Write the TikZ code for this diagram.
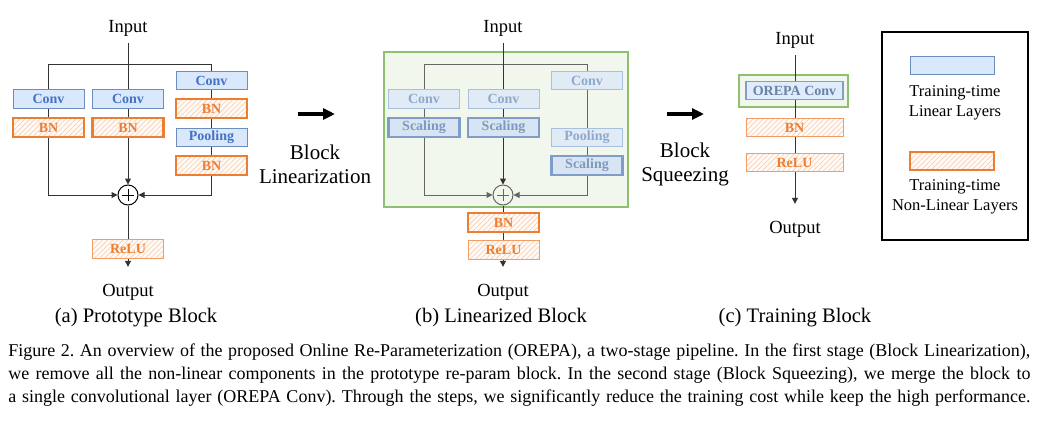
\documentclass[tikz,border=0pt]{standalone}
\usepackage{fontspec}
\setmainfont{Liberation Serif}
\usetikzlibrary{arrows.meta,patterns.meta}
\pgfdeclarelayer{back}
\pgfdeclarelayer{mid}
\pgfsetlayers{back,mid,main}
\frenchspacing
\definecolor{bfill}{HTML}{DAE8FC}
\definecolor{bdraw}{HTML}{6C8EBF}
\definecolor{btext}{HTML}{4472C4}
\definecolor{ffill}{HTML}{E1EBF5}
\definecolor{fdraw}{HTML}{A9C0DC}
\definecolor{ftext}{HTML}{8EA9CC}
\definecolor{sfill}{HTML}{D8E4F1}
\definecolor{sdraw}{HTML}{7E9DC9}
\definecolor{stext}{HTML}{7D9AC2}
\definecolor{odraw}{HTML}{ED7D31}
\definecolor{otext}{HTML}{ED7D31}
\definecolor{ohatch}{HTML}{F8CBAD}
\definecolor{ofill}{HTML}{FFFAF6}
\definecolor{gfill}{HTML}{F1F7EC}
\definecolor{gdraw}{HTML}{8FBF70}
\definecolor{lineA}{HTML}{333333}
\definecolor{lineB}{HTML}{666666}
\tikzset{
  box/.style={inner sep=0pt, font=\fontsize{7}{8}\selectfont\bfseries, minimum width=35.5pt, minimum height=9.25pt},
  lin/.style={box, draw=bdraw, fill=bfill, line width=0.5pt, text=btext},
  flin/.style={box, draw=fdraw, fill=ffill, line width=0.5pt, text=ftext},
  scal/.style={box, draw=sdraw, fill=sfill, line width=1.2pt, text=stext},
  nlthick/.style={box, draw=odraw, line width=1.2pt, text=otext, preaction={fill=ofill},
     pattern={Lines[angle=45,distance=1.8pt,line width=0.3pt]}, pattern color=ohatch},
  nlthin/.style={nlthick, line width=0.5pt, draw=odraw!75},
  gbox/.style={draw=gdraw, fill=gfill, line width=0.6pt, inner sep=0pt},
  plus/.style={circle, draw=black, line width=0.5pt, minimum size=10pt, inner sep=0pt,
     path picture={\draw[line width=0.4pt] ([xshift=-3pt]path picture bounding box.center) -- ([xshift=3pt]path picture bounding box.center)
       ([yshift=-3pt]path picture bounding box.center) -- ([yshift=3pt]path picture bounding box.center);}},
  lbl/.style={font=\fontsize{9.25}{11}\selectfont},
  sub/.style={font=\fontsize{10.3}{12}\selectfont},
  mid/.style={font=\fontsize{10.5}{12}\selectfont, align=center},
  leg/.style={font=\fontsize{8.25}{10}\selectfont, align=center},
  conn/.style={draw=lineA, line width=0.5pt},
  connb/.style={draw=lineB, line width=0.5pt},
  tip/.style={-{Triangle[length=3pt,width=3pt]}},
  bigarrow/.style={line width=2pt, -{Triangle[length=6pt,width=5.5pt]}},
}
\begin{document}
\begin{tikzpicture}[x=0.5pt,y=-0.5pt]
\useasboundingbox (0,0) rectangle (1046,424);
\begin{pgfonlayer}{back}
\fill[white] (0,0) rectangle (1046,424);
\end{pgfonlayer}

% ---------- panel (a) ----------
\node[lbl] (aIn) at (128,28) {Input};
\node[lin] (aC1) at (48.5,99) {Conv};
\node[nlthick] (aB1) at (48.5,127.5) {BN};
\node[lin] (aC2) at (128,99) {Conv};
\node[nlthick] (aB2) at (128,127.5) {BN};
\node[lin] (aC3) at (211.5,80.5) {Conv};
\node[nlthick] (aB3) at (211.5,108.5) {BN};
\node[lin] (aP) at (211.5,137.5) {Pooling};
\node[nlthick] (aB4) at (211.5,165.5) {BN};
\node[plus, fill=white] (aPlus) at (128,195) {};
\node[nlthin] (aR) at (128,249) {ReLU};
\node[lbl] (aOut) at (128,292) {Output};
\node[sub] (aCap) at (136,318) {(a) Prototype Block};
\coordinate (aTL) at (48.5,64);
\coordinate (aTR) at (211.5,64);
\begin{pgfonlayer}{mid}
\draw[conn] (aTL) -- (aTR);
\draw[conn,tip] (aIn) -- (aPlus);
\draw[conn,tip] (aTL) |- (aPlus);
\draw[conn,tip] (aTR) |- (aPlus);
\draw[conn,tip] (aPlus) -- ([yshift=5pt]aOut.north);
\end{pgfonlayer}

% ---------- arrow 1 ----------
\coordinate (ar1a) at (298,114);
\coordinate (ar1b) at (335,114);
\draw[bigarrow] (ar1a) -- (ar1b);
\node[mid] (t1) at (315,164) {Block\\Linearization};

% ---------- panel (b) ----------
\begin{pgfonlayer}{back}
\node[gbox, minimum width=122pt, minimum height=77.5pt] (bG) at (506,129.5) {};
\end{pgfonlayer}
\node[lbl] (bIn) at (503,28) {Input};
\node[flin] (bC1) at (424,99) {Conv};
\node[scal] (bS1) at (424,127.5) {Scaling};
\node[flin] (bC2) at (503.5,99) {Conv};
\node[scal] (bS2) at (503.5,127.5) {Scaling};
\node[flin] (bC3) at (587,80.5) {Conv};
\node[flin] (bP) at (587,137.5) {Pooling};
\node[scal] (bS3) at (587,165.5) {Scaling};
\node[plus, fill=gfill, draw=lineB] (bPlus) at (503,195) {};
\node[nlthick] (bB) at (503.5,222.5) {BN};
\node[nlthin] (bR) at (503.5,250) {ReLU};
\node[lbl] (bOut) at (503,292) {Output};
\node[sub] (bCap) at (501,318) {(b) Linearized Block};
\coordinate (bTL) at (424,64);
\coordinate (bTR) at (587,64);
\begin{pgfonlayer}{mid}
\draw[connb] (bTL) -- (bTR);
\draw[conn,tip] (bIn) -- (bPlus);
\draw[connb,tip] (bTL) |- (bPlus);
\draw[connb,tip] (bTR) |- (bPlus);
\draw[conn,tip] (bPlus) -- ([yshift=5pt]bOut.north);
\end{pgfonlayer}

% ---------- arrow 2 ----------
\coordinate (ar2a) at (667,114);
\coordinate (ar2b) at (704,114);
\draw[bigarrow] (ar2a) -- (ar2b);
\node[mid] (t2) at (685,164) {Block\\Squeezing};

% ---------- panel (c) ----------
\begin{pgfonlayer}{back}
\node[gbox, minimum width=54.5pt, minimum height=16pt] (cG) at (793.5,91) {};
\end{pgfonlayer}
\node[lbl] (cIn) at (795,40) {Input};
\node[box, draw=bdraw!85, fill=bfill!85!white, line width=0.6pt, text=stext!85!black, minimum width=48.5pt] (cC) at (794.5,90.5) {OREPA Conv};
\node[nlthin, minimum width=48.5pt] (cB) at (794.5,127.5) {BN};
\node[nlthin, minimum width=48.5pt] (cR) at (794.5,162.5) {ReLU};
\node[lbl] (cOut) at (795,229) {Output};
\node[sub] (cCap) at (795,318) {(c) Training Block};
\begin{pgfonlayer}{mid}
\draw[conn,tip] (cIn) -- ([yshift=5pt]cOut.north);
\end{pgfonlayer}

% ---------- legend ----------
\node[draw=black, line width=1pt, minimum width=73pt, minimum height=104pt, inner sep=0pt] (legbox) at (955,136) {};
\node[lin, minimum width=42pt, minimum height=9pt] (legL) at (952,65) {};
\node[leg] (legLt) at (955,103) {Training-time\\Linear Layers};
\node[nlthick, minimum width=42pt, minimum height=9pt] (legN) at (952,161) {};
\node[leg] (legNt) at (955,197) {Training-time\\Non-Linear Layers};

% ---------- caption ----------
\node[anchor=base west, inner sep=0pt, font=\fontsize{9}{11}\selectfont] (cap1) at (8,356)
  {\makebox[511pt][s]{Figure 2. An overview of the proposed Online Re-Parameterization (OREPA), a two-stage pipeline. In the first stage (Block Linearization),}};
\node[anchor=base west, inner sep=0pt, font=\fontsize{9}{11}\selectfont] (cap2) at (8,379)
  {\makebox[511pt][s]{we remove all the non-linear components in the prototype re-param block. In the second stage (Block Squeezing), we merge the block to}};
\node[anchor=base west, inner sep=0pt, font=\fontsize{9}{11}\selectfont] (cap3) at (8,402)
  {\makebox[511pt][s]{a single convolutional layer (OREPA Conv). Through the steps, we significantly reduce the training cost while keep the high performance.}};
\end{tikzpicture}
\end{document}
